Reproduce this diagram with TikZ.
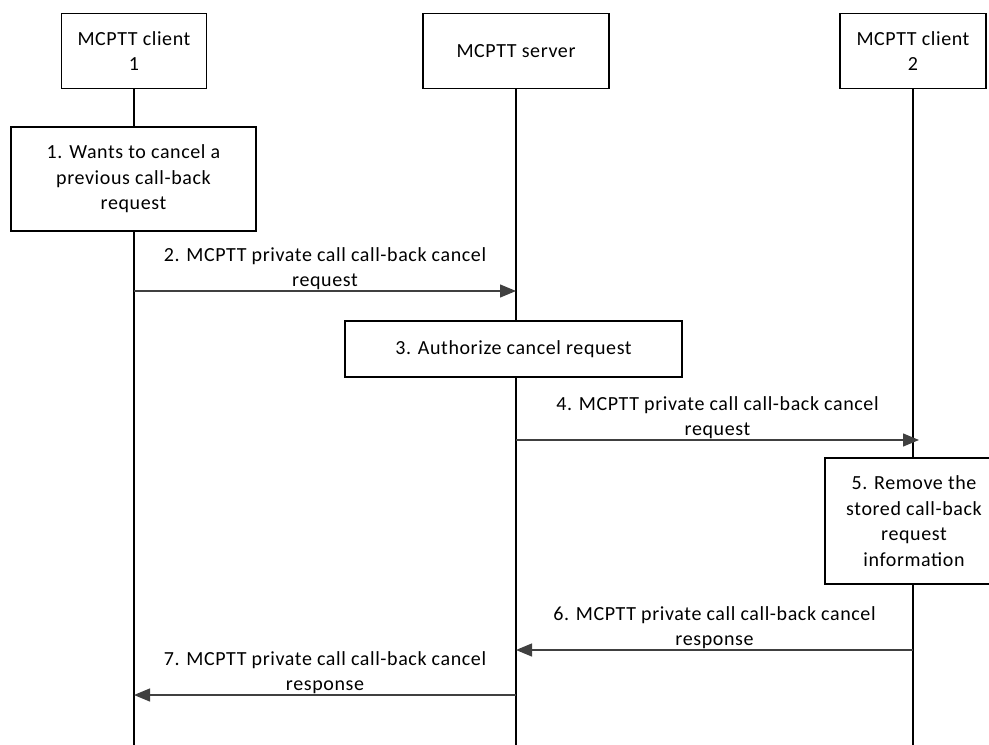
\documentclass[tikz,border=0pt]{standalone}
\usepackage{fontspec}
\setmainfont{Carlito}[LetterSpace=3]
\usetikzlibrary{calc,arrows.meta}

\begin{document}
\begin{tikzpicture}[x=1pt,y=1pt]
        \tikzstyle {acteur} = [rectangle, draw=black, line width=1.3pt, fill=white, minimum height=75pt, align=center, inner sep=0pt]
        \tikzstyle {etape} = [rectangle, draw=black, line width=1.3pt, fill=white, align=center, inner sep=0pt]
        \tikzstyle {vie} = [draw=black, line width=1.3pt]
        \tikzstyle {message} = [draw=black!75, line width=1.3pt, -{Triangle[length=16pt,width=13pt]}]
        \tikzstyle {legende} = [anchor=south, align=center, inner sep=0pt, yshift=0.5pt]
        \useasboundingbox (0,0) rectangle (989,-745);
        \fontsize{20}{25.5}\selectfont
        \node (client_1) [acteur, minimum width=145pt] at (134,-51) {MCPTT client\\1};
        \node (serveur) [acteur, minimum width=186pt] at (516,-51) {MCPTT server};
        \node (client_2) [acteur, minimum width=146pt] at (913,-51) {MCPTT client\\2};
        \node (etape_1) [etape, minimum width=245pt, minimum height=104pt] at (133.5,-179) {1. Wants to cancel a\\previous call-back\\request};
        \node (etape_3) [etape, minimum width=337pt, minimum height=56pt] at (513.5,-349) {3. Authorize cancel request};
        \node (etape_5) [etape, minimum width=178pt, minimum height=126pt] at (914,-521) {5. Remove the\\stored call-back\\request\\information};
        \coordinate (fin_1) at (134,-745);
        \coordinate (fin_serveur) at (516,-745);
        \coordinate (fin_2) at (913,-745);
        \coordinate (y_2) at (0,-291);
        \coordinate (y_4) at (0,-440);
        \coordinate (y_6) at (0,-650);
        \coordinate (y_7) at (0,-695);
        \draw[vie] (client_1.south) -- (client_1 |- etape_1.north);
        \draw[vie] (client_1 |- etape_1.south) -- (fin_1);
        \draw[vie] (serveur.south) -- (serveur |- etape_3.north);
        \draw[vie] (serveur |- etape_3.south) -- (fin_serveur);
        \draw[vie] (client_2.south) -- (client_2 |- etape_5.north);
        \draw[vie] (client_2 |- etape_5.south) -- (fin_2);
        \draw[message] (client_1 |- y_2) -- node[legende] {2. MCPTT private call call-back cancel\\request} (serveur |- y_2);
        \draw[message] (serveur |- y_4) -- node[legende] {4. MCPTT private call call-back cancel\\request} ($(client_2 |- y_4)+(6,0)$);
        \draw[message] (client_2 |- y_6) -- node[legende] {6. MCPTT private call call-back cancel\\response} (serveur |- y_6);
        \draw[message] (serveur |- y_7) -- node[legende] {7. MCPTT private call call-back cancel\\response} (client_1 |- y_7);
    \end{tikzpicture}
\end{document}
